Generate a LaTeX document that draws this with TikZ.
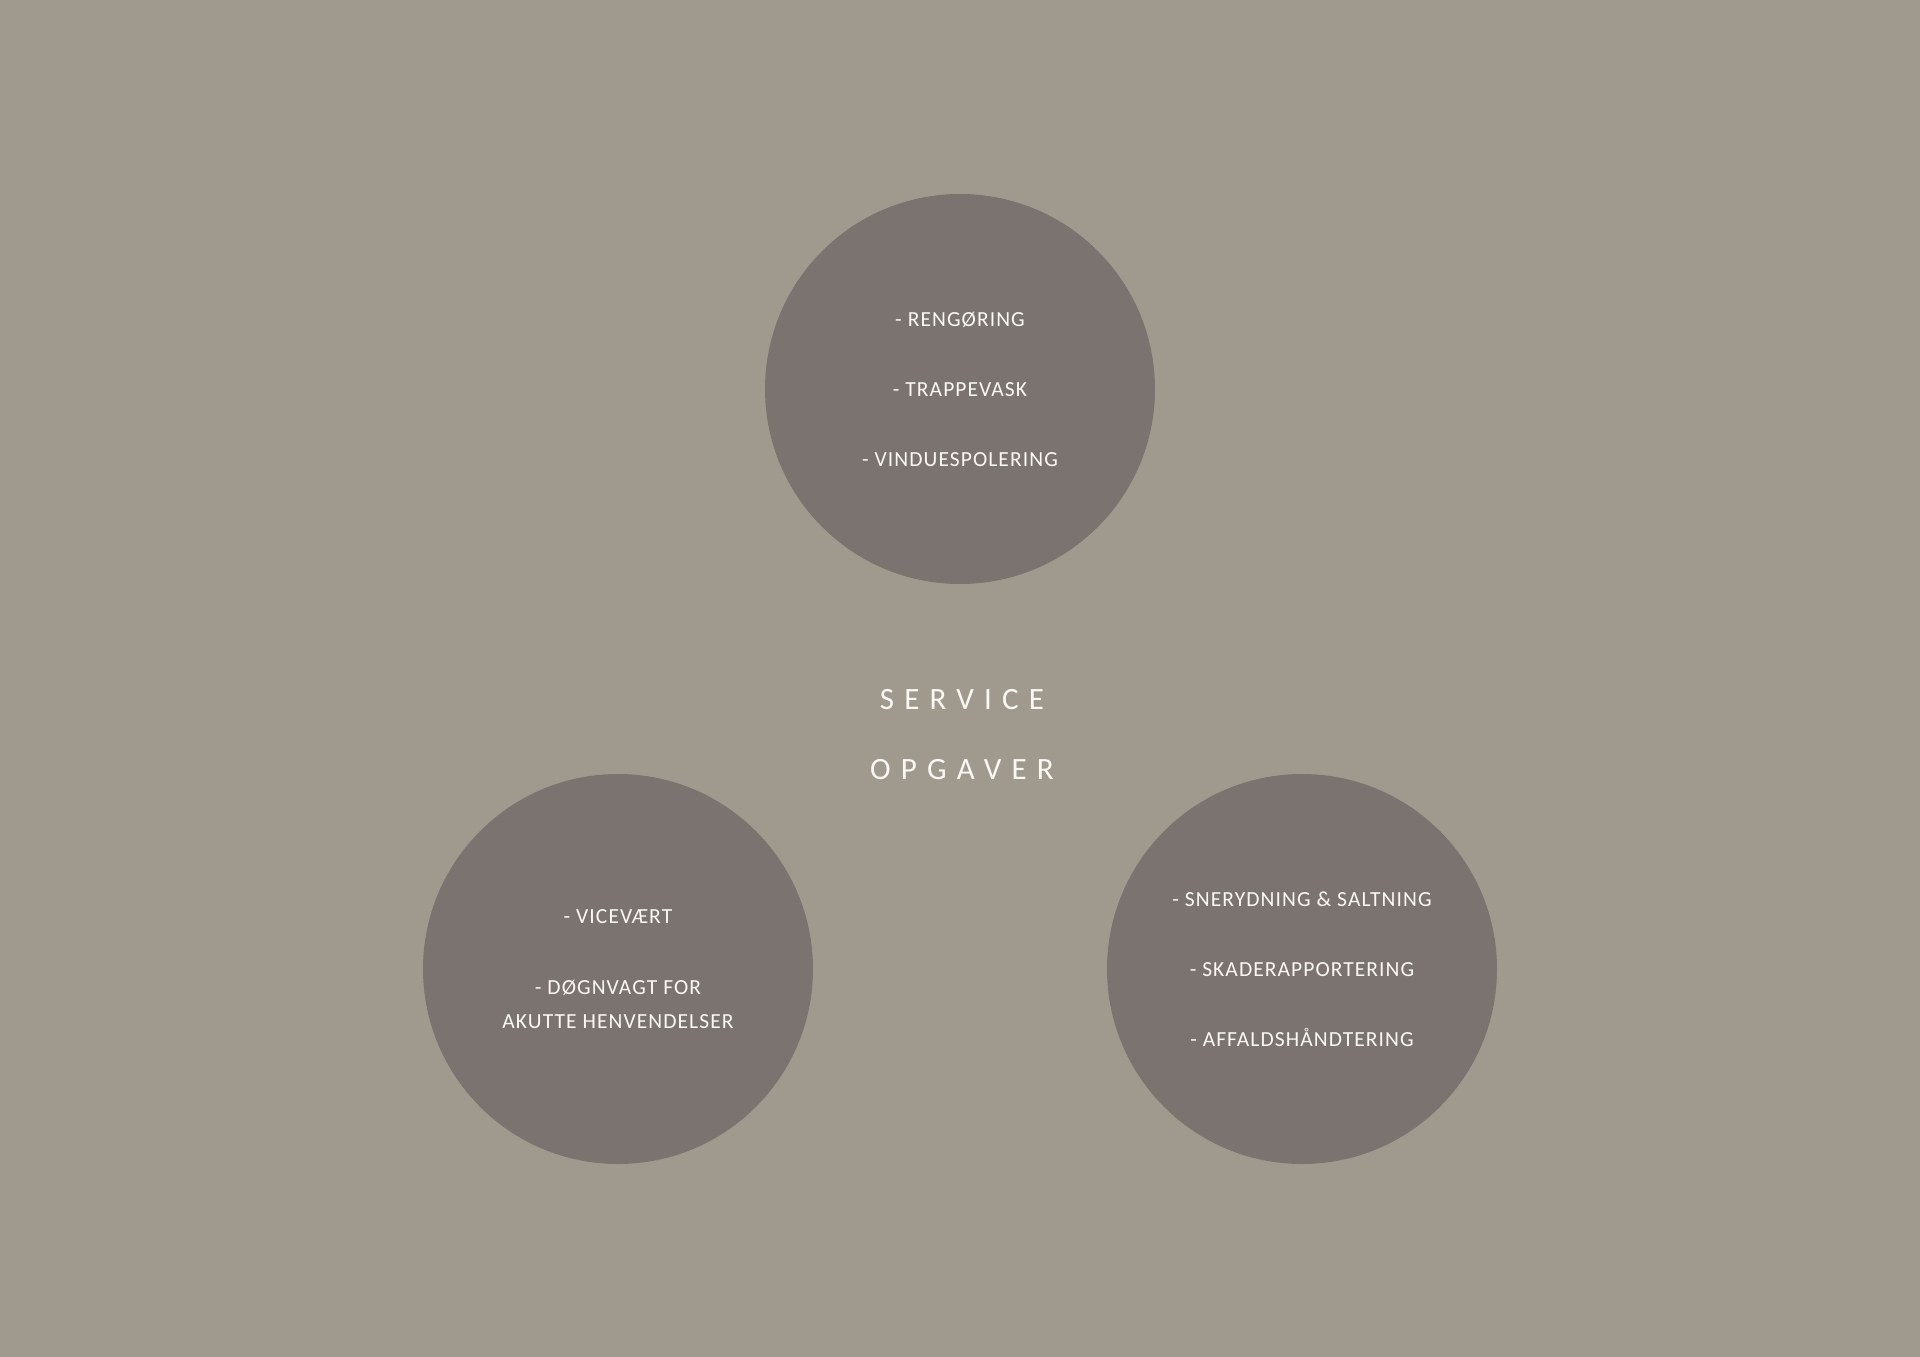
\documentclass[tikz,border=0pt]{standalone}
\usepackage{fontspec}
\setmainfont{Carlito}
\newfontfamily\itemfont[LetterSpace=5]{Carlito}
\newfontfamily\titlefont[LetterSpace=33]{Carlito}
\usetikzlibrary{positioning}
\definecolor{bgtaupe}{RGB}{160,154,142}
\definecolor{circgrey}{RGB}{123,115,111}
\definecolor{textwhite}{RGB}{250,248,244}

\begin{document}
\begin{tikzpicture}[x=1pt, y=-1pt,
    task/.style={circle, fill=circgrey, minimum size=390pt, inner sep=0pt, align=center, text=textwhite, font=\itemfont\fontsize{21.5}{34}\selectfont},
    title/.style={text=textwhite, align=center, font=\titlefont\fontsize{31}{70}\selectfont}
]

% Background
\fill[bgtaupe] (0,0) rectangle (1920,1357);
\useasboundingbox (0,0) rectangle (1920,1357);

% Service circles
\node[task] (clean) at (960,389) {- RENGØRING\\[36pt] - TRAPPEVASK\\[36pt] - VINDUESPOLERING};
\node[task] (caretaker) at (618,969) {- VICEVÆRT\\[37pt] - DØGNVAGT FOR\\ AKUTTE HENVENDELSER};
\node[task] (outdoor) at (1302,969) {- SNERYDNING \& SALTNING\\[36pt] - SKADERAPPORTERING\\[36pt] - AFFALDSHÅNDTERING};

% Title in the middle
\node[title] (heading) at (962,735) {SERVICE\\ OPGAVER};

\end{tikzpicture}
\end{document}
